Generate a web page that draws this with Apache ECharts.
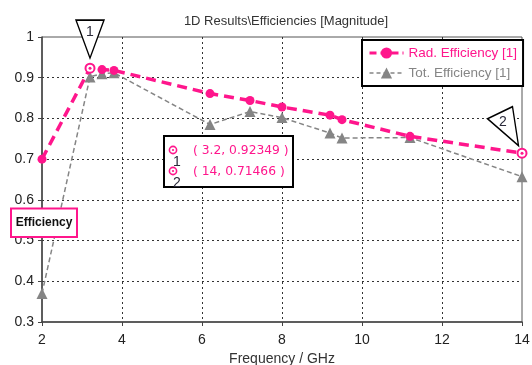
<!DOCTYPE html>
<html><head><meta charset="utf-8">
<script src="https://cdn.jsdelivr.net/npm/echarts@6/dist/echarts.min.js"></script>
<style>html,body{margin:0;padding:0;background:#fff}#c{width:532px;height:365px}</style>
</head><body><div id="c"></div>
<script>
// ---- data ----
const freqRad = [2, 3.2, 3.5, 3.8, 6.2, 7.2, 8, 9.2, 9.5, 11.2, 14];
const radEff  = [0.70, 0.92349, 0.92, 0.918, 0.861, 0.844, 0.828, 0.808, 0.797, 0.756, 0.71466];
const freqTot = [2, 3.2, 3.5, 3.8, 6.2, 7.2, 8, 9.2, 9.5, 11.2, 14];
const totEff  = [0.37, 0.902, 0.91, 0.912, 0.785, 0.817, 0.802, 0.764, 0.752, 0.753, 0.657];
const xTicks = [2, 4, 6, 8, 10, 12, 14];
const yTicks = [0.3, 0.4, 0.5, 0.6, 0.7, 0.8, 0.9, 1];
const markerIds = ['1', '2'];
const markerX = [3.2, 14];
const markerY = [0.92349, 0.71466];
const seriesNames = ['Rad. Efficiency [1]', 'Tot. Efficiency [1]'];
const titleText = '1D Results\\Efficiencies [Magnitude]';
const xName = 'Frequency / GHz';
const yName = 'Efficiency';

const PINK = '#ff168c';
const GRAY = '#858585';
const FONT = 'Liberation Sans, Arial, sans-serif';

const chart = echarts.init(document.getElementById('c'), null, {renderer: 'canvas'});

const isMarker = f => markerX.indexOf(f) >= 0;
const radData = freqRad.map((f, i) => isMarker(f)
  ? {value: [f, radEff[i]], symbol: 'emptyCircle', symbolSize: 9, itemStyle: {borderWidth: 1.6}}
  : [f, radEff[i]]);
const totData = freqTot.map((f, i) => [f, totEff[i]]);

const flagShapes = [
  {symbol: 'path://M0,0 L28,0 L14,38 Z', size: [28, 38], offset: [0, -29], labelOffset: [0, -7]},
  {symbol: 'path://M0,12 L25,0 L31,39 Z', size: [31, 39], offset: [-19, -27], labelOffset: [0, -4]}
];

const markData = [];
markerIds.forEach((id, k) => {
  markData.push({coord: [markerX[k], markerY[k]], symbol: 'circle', symbolSize: 3,
    itemStyle: {color: PINK}, label: {show: false}});
  markData.push({coord: [markerX[k], markerY[k]], symbol: flagShapes[k].symbol,
    symbolSize: flagShapes[k].size, symbolOffset: flagShapes[k].offset,
    itemStyle: {color: '#fff', borderColor: '#000', borderWidth: 1.5},
    label: {show: true, formatter: id, offset: flagShapes[k].labelOffset, color: '#2a2a3a',
      fontSize: 14, fontFamily: FONT}});
});

// annotation box texts
const annGraphics = [];
const boxX = 164, boxY = 136, boxW = 129, boxH = 51;
annGraphics.push({type: 'rect', shape: {x: boxX, y: boxY, width: boxW, height: boxH},
  style: {fill: '#fff', stroke: '#000', lineWidth: 2}, z: 100});
markerIds.forEach((id, k) => {
  const cy = boxY + 15 + k * 21;
  annGraphics.push({type: 'circle', shape: {cx: boxX + 9, cy: cy - 1, r: 3.6},
    style: {fill: '#fff', stroke: PINK, lineWidth: 1.6}, z: 101});
  annGraphics.push({type: 'circle', shape: {cx: boxX + 9, cy: cy - 1, r: 1.1},
    style: {fill: PINK}, z: 102});
  annGraphics.push({type: 'text', x: boxX + 13, y: cy + 11,
    style: {text: id, fill: '#2a2a3a', font: '14px ' + FONT, textAlign: 'center', textVerticalAlign: 'middle'}, z: 101});
  annGraphics.push({type: 'text', x: boxX + 29, y: cy,
    style: {text: '( ' + markerX[k] + ', ' + markerY[k] + ' )', fill: PINK, font: '12.3px DejaVu Sans, sans-serif',
      textAlign: 'left', textVerticalAlign: 'middle'}, z: 101});
});

// y-axis name box
annGraphics.push({type: 'rect', shape: {x: 11, y: 208.5, width: 66, height: 28.5},
  style: {fill: '#fff', stroke: PINK, lineWidth: 2}, z: 100});
annGraphics.push({type: 'text', x: 44, y: 223,
  style: {text: yName, fill: '#111', font: 'bold 12px ' + FONT, textAlign: 'center', textVerticalAlign: 'middle'}, z: 101});

const option = {
  animation: false,
  backgroundColor: '#fff',
  title: {text: titleText, left: 281, top: 10, textAlign: 'center',
    textStyle: {fontSize: 13, fontWeight: 'normal', color: '#333', fontFamily: FONT}},
  grid: {left: 42, right: 10, top: 37, bottom: 43, show: true, borderColor: '#555', borderWidth: 1,
    containLabel: false, outerBoundsMode: 'none'},
  legend: {orient: 'vertical', left: 362, top: 40, backgroundColor: '#fff', borderColor: '#000', borderWidth: 2,
    padding: [6, 6, 6, 6], itemGap: 6, itemWidth: 34, itemHeight: 14,
    textStyle: {fontSize: 13.5, fontFamily: FONT},
    data: [
      {name: seriesNames[0], textStyle: {color: PINK}, lineStyle: {type: [7, 4], width: 3}},
      {name: seriesNames[1], textStyle: {color: GRAY}, lineStyle: {type: [4, 3], width: 1.5}}
    ]},
  xAxis: {type: 'value', min: xTicks[0], max: xTicks[xTicks.length - 1], interval: xTicks[1] - xTicks[0],
    name: xName, nameLocation: 'middle', nameGap: 30,
    nameTextStyle: {fontSize: 14, color: '#333', fontFamily: FONT},
    axisLine: {show: true, onZero: false, lineStyle: {color: '#444', width: 1.5}},
    axisTick: {show: true, inside: false, length: 4, lineStyle: {color: '#444'}},
    axisLabel: {margin: 11, fontSize: 14, color: '#222', fontFamily: FONT},
    splitLine: {show: true, showMinLine: false, showMaxLine: false, lineStyle: {color: '#333', type: [2, 3], width: 1}}},
  yAxis: {type: 'value', min: yTicks[0], max: yTicks[yTicks.length - 1], interval: 0.1,
    axisLine: {show: true, onZero: false, lineStyle: {color: '#444', width: 1.5}},
    axisTick: {show: true, inside: false, length: 4, lineStyle: {color: '#444'}},
    axisLabel: {margin: 8, fontSize: 14, color: '#222', fontFamily: FONT,
      formatter: v => String(+v.toFixed(1))},
    splitLine: {show: true, showMinLine: false, showMaxLine: false, lineStyle: {color: '#333', type: [2, 3], width: 1}}},
  graphic: annGraphics,
  series: [
    {name: seriesNames[1], type: 'line', data: totData, symbol: 'triangle', symbolSize: 11,
      itemStyle: {color: GRAY}, lineStyle: {color: GRAY, width: 1.5, type: [5, 3]}, z: 2},
    {name: seriesNames[0], type: 'line', data: radData, symbol: 'circle', symbolSize: 9,
      itemStyle: {color: PINK}, lineStyle: {color: PINK, width: 3.5, type: [10, 6]}, z: 3,
      markPoint: {data: markData, z: 5}}
  ]
};
chart.setOption(option);
</script></body></html>
